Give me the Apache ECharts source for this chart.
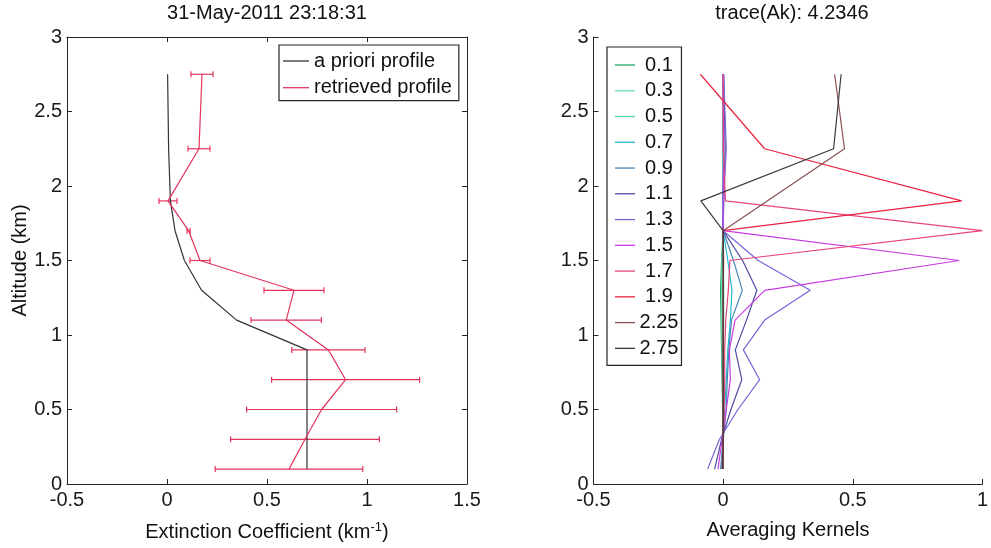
<!DOCTYPE html>
<html>
<head>
<meta charset="utf-8">
<script src="https://cdn.jsdelivr.net/npm/echarts@6/dist/echarts.min.js"></script>
<style>
  html, body { margin: 0; padding: 0; background: #ffffff; }
  #chart { width: 991px; height: 548px; }
</style>
</head>
<body>
<div id="chart"></div>
<script>
// Retrieval levels (km)
const altitudes = [0.1, 0.3, 0.5, 0.7, 0.9, 1.1, 1.3, 1.5, 1.7, 1.9, 2.25, 2.75];

// Extinction profiles (km^-1)
const aprioriProfile   = [0.70, 0.70, 0.70, 0.70, 0.70, 0.348, 0.173, 0.087, 0.040, 0.017, 0.008, 0.003];
const retrievedProfile = [0.61, 0.69, 0.773, 0.893, 0.807, 0.596, 0.635, 0.165, 0.108, 0.005, 0.160, 0.175];
const retrievedError   = [0.369, 0.372, 0.375, 0.370, 0.183, 0.176, 0.150, 0.050, 0.008, 0.045, 0.055, 0.055];

// Averaging kernel rows, one per retrieval level, sampled at the altitudes above
const kernelLabels = ['0.1', '0.3', '0.5', '0.7', '0.9', '1.1', '1.3', '1.5', '1.7', '1.9', '2.25', '2.75'];
const kernel_0_1  = [0.000, 0.000, -0.002, -0.004, -0.006, -0.008, -0.010, -0.006, 0.000, 0.000, 0.000, 0.000];
const kernel_0_3  = [-0.002, 0.000, 0.000, -0.002, -0.004, -0.006, -0.006, -0.004, 0.000, 0.000, 0.000, 0.000];
const kernel_0_5  = [-0.004, 0.000, 0.002, 0.002, 0.002, 0.002, 0.002, 0.001, 0.000, 0.000, 0.000, 0.000];
const kernel_0_7  = [-0.006, 0.000, 0.006, 0.012, 0.018, 0.028, 0.034, 0.018, 0.000, 0.000, 0.000, 0.000];
const kernel_0_9  = [-0.010, 0.000, 0.012, 0.016, 0.022, 0.032, 0.074, 0.040, 0.000, 0.000, 0.002, 0.000];
const kernel_1_1  = [-0.033, -0.006, 0.030, 0.072, 0.047, 0.090, 0.130, 0.075, 0.000, 0.002, 0.008, 0.002];
const kernel_1_3  = [-0.060, -0.014, 0.057, 0.141, 0.078, 0.160, 0.336, 0.135, 0.000, 0.002, 0.012, 0.002];
const kernel_1_5  = [-0.020, -0.004, 0.012, 0.028, 0.024, 0.046, 0.160, 0.910, 0.000, 0.000, 0.002, 0.000];
const kernel_1_7  = [-0.004, 0.000, 0.004, 0.006, 0.006, 0.010, 0.020, 0.026, 1.000, 0.009, 0.000, 0.000];
const kernel_1_9  = [0.000, 0.000, 0.000, 0.000, 0.000, 0.000, 0.000, 0.002, 0.000, 0.920, 0.160, -0.088];
const kernel_2_25 = [0.000, 0.000, 0.000, 0.000, 0.000, 0.000, 0.000, 0.000, 0.000, 0.170, 0.468, 0.430];
const kernel_2_75 = [-0.002, 0.000, 0.000, 0.000, 0.000, 0.000, 0.000, 0.000, 0.000, -0.086, 0.426, 0.455];
const kernelRows = [kernel_0_1, kernel_0_3, kernel_0_5, kernel_0_7, kernel_0_9, kernel_1_1,
                    kernel_1_3, kernel_1_5, kernel_1_7, kernel_1_9, kernel_2_25, kernel_2_75];

// Axis tick values
const altitudeTicks   = [0, 0.5, 1, 1.5, 2, 2.5, 3];
const extinctionTicks = [-0.5, 0, 0.5, 1, 1.5];
const kernelTicks     = [-0.5, 0, 0.5, 1];

// Line colours for the kernel curves
const kernelColors = ['#1fa563', '#6fdcb8', '#52d6ae', '#22b9cf', '#4a87b8', '#4b4ba3',
                      '#7a62d8', '#c83ce0', '#e8457c', '#e8223e', '#8c4f52', '#3a3a3a'];

const FONT = "'Liberation Sans', Arial, Helvetica, sans-serif";
const INK = '#262626';
const RED = '#e2345c';

const tickStep = t => t[1] - t[0];

function baseAxis(ticks, extra) {
  return Object.assign({
    type: 'value',
    min: ticks[0],
    max: ticks[ticks.length - 1],
    interval: tickStep(ticks),
    splitLine: { show: false },
    axisLine: { show: true, onZero: false, lineStyle: { color: INK, width: 1 } },
    axisTick: { show: true, inside: true, length: 5, lineStyle: { color: INK } },
    axisLabel: { color: '#1a1a1a', fontSize: 20, fontFamily: FONT }
  }, extra);
}

const pairs = vals => vals.map((v, i) => [v, altitudes[i]]);
const errorData = retrievedProfile.map((v, i) => [v, retrievedError[i], altitudes[i]]);

// Horizontal error bar with end caps around each retrieved value
function renderErrorBar(params, api) {
  const x = api.value(0), e = api.value(1), y = api.value(2);
  const a = api.coord([x - e, y]);
  const b = api.coord([x + e, y]);
  const h = 3;
  const style = { stroke: RED, lineWidth: 1.2 };
  return {
    type: 'group',
    children: [
      { type: 'line', shape: { x1: a[0], y1: a[1], x2: b[0], y2: b[1] }, style },
      { type: 'line', shape: { x1: a[0], y1: a[1] - h, x2: a[0], y2: a[1] + h }, style },
      { type: 'line', shape: { x1: b[0], y1: b[1] - h, x2: b[0], y2: b[1] + h }, style }
    ]
  };
}

const kernelSeries = kernelRows.map((row, i) => ({
  name: kernelLabels[i],
  type: 'line',
  xAxisIndex: 2,
  yAxisIndex: 2,
  data: pairs(row),
  symbol: 'none',
  silent: true,
  lineStyle: { color: kernelColors[i], width: 1.2 },
  itemStyle: { color: kernelColors[i] }
}));

const chart = echarts.init(document.getElementById('chart'), null, { renderer: 'canvas' });

chart.setOption({
  backgroundColor: '#ffffff',
  animation: false,
  textStyle: { fontFamily: FONT },
  title: [
    { text: '31-May-2011 23:18:31', left: 267, top: 3, padding: 0, textAlign: 'center',
      textStyle: { fontSize: 20, fontWeight: 'normal', color: '#111', fontFamily: FONT } },
    { text: 'trace(Ak): 4.2346', left: 792, top: 3, padding: 0, textAlign: 'center',
      textStyle: { fontSize: 20, fontWeight: 'normal', color: '#111', fontFamily: FONT } }
  ],
  grid: [
    { left: 67, top: 37, width: 400, height: 447, containLabel: false },
    { left: 593.5, top: 37, width: 397.5, height: 447, containLabel: false }
  ],
  legend: [
    {
      data: ['a priori profile', 'retrieved profile'],
      orient: 'vertical',
      left: 279, top: 45,
      padding: [6, 7, 3, 4],
      itemGap: 6.7,
      icon: 'rect',
      itemWidth: 26, itemHeight: 1.3,
      borderColor: INK, borderWidth: 1.2,
      selectedMode: false,
      textStyle: { fontSize: 20, color: '#111', fontFamily: FONT, lineHeight: 20 }
    },
    {
      data: kernelLabels,
      orient: 'vertical',
      left: 607, top: 47,
      padding: [8, 3, 7, 8],
      itemGap: 5.76,
      icon: 'rect',
      itemWidth: 20, itemHeight: 1.3,
      borderColor: INK, borderWidth: 1.2,
      selectedMode: false,
      formatter: '{c|{name}}',
      textStyle: {
        fontSize: 20, color: '#111', fontFamily: FONT,
        rich: { c: { width: 38, align: 'center', fontSize: 20, lineHeight: 20, fontFamily: FONT } }
      }
    }
  ],
  xAxis: [
    baseAxis(extinctionTicks, {
      gridIndex: 0, position: 'bottom',
      axisLabel: { color: '#1a1a1a', fontSize: 20, fontFamily: FONT, margin: 6 },
      name: 'Extinction Coefficient (km{sup|-1})',
      nameLocation: 'middle', nameGap: 37,
      nameTextStyle: {
        fontSize: 20, color: '#111', fontFamily: FONT,
        rich: { sup: { fontSize: 13, fontFamily: FONT, padding: [0, 0, 10, 0] } }
      }
    }),
    baseAxis(extinctionTicks, {
      gridIndex: 0, position: 'top',
      axisLabel: { show: false }
    }),
    baseAxis(kernelTicks, {
      gridIndex: 1, position: 'bottom',
      axisLabel: { color: '#1a1a1a', fontSize: 20, fontFamily: FONT, margin: 6 },
      name: 'Averaging Kernels',
      nameLocation: 'middle', nameGap: 36,
      nameTextStyle: { fontSize: 20, color: '#111', fontFamily: FONT }
    })
  ],
  yAxis: [
    baseAxis(altitudeTicks, {
      gridIndex: 0, position: 'left',
      axisLabel: { color: '#1a1a1a', fontSize: 20, fontFamily: FONT, margin: 5 },
      name: 'Altitude (km)',
      nameLocation: 'middle', nameGap: 36, nameRotate: 90,
      nameTextStyle: { fontSize: 20, color: '#111', fontFamily: FONT }
    }),
    baseAxis(altitudeTicks, {
      gridIndex: 0, position: 'right',
      axisLabel: { show: false }
    }),
    baseAxis(altitudeTicks, {
      gridIndex: 1, position: 'left',
      axisLabel: { color: '#1a1a1a', fontSize: 20, fontFamily: FONT, margin: 5 }
    })
  ],
  series: [
    {
      name: 'a priori profile',
      type: 'line',
      xAxisIndex: 0, yAxisIndex: 0,
      data: pairs(aprioriProfile),
      symbol: 'none',
      silent: true,
      lineStyle: { color: '#333333', width: 1.2 },
      itemStyle: { color: '#333333' }
    },
    {
      name: 'retrieved profile',
      type: 'line',
      xAxisIndex: 0, yAxisIndex: 0,
      data: pairs(retrievedProfile),
      symbol: 'none',
      silent: true,
      lineStyle: { color: RED, width: 1.2 },
      itemStyle: { color: RED }
    },
    {
      name: 'retrieval error',
      type: 'custom',
      xAxisIndex: 0, yAxisIndex: 0,
      data: errorData,
      encode: { x: 0, y: 2 },
      renderItem: renderErrorBar,
      silent: true
    }
  ].concat(kernelSeries)
});
</script>
</body>
</html>
